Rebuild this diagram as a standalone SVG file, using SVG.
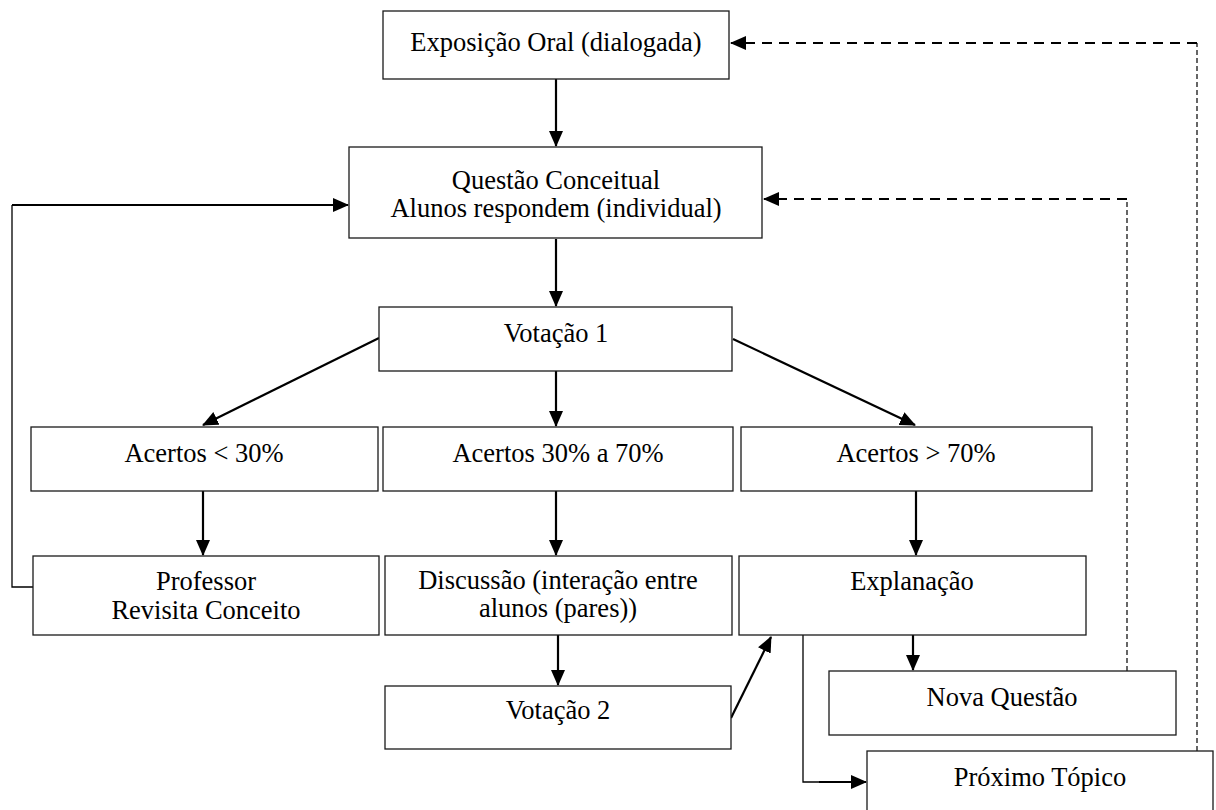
<svg xmlns="http://www.w3.org/2000/svg" width="1216" height="810" viewBox="0 0 1216 810">
  <style>
    .box rect { fill: #ffffff; stroke: #1a1a1a; stroke-width: 1.3; }
    .box text { font-family: "Liberation Serif", "Times New Roman", serif; font-size: 26.5px; fill: #000; text-anchor: middle; }
    .arrow { fill: none; stroke: #000; stroke-width: 2.2; }
    .thin { fill: none; stroke: #000; stroke-width: 1.3; }
    .dash { fill: none; stroke: #000; stroke-width: 2.2; stroke-dasharray: 10 7; }
    .dashthin { fill: none; stroke: #000; stroke-width: 1.2; stroke-dasharray: 5 3; }
  </style>
  <defs>
    <marker id="head" markerUnits="userSpaceOnUse" markerWidth="16" markerHeight="14" refX="15" refY="7" orient="auto">
      <path d="M0,0 L16,7 L0,14 Z" fill="#000"/>
    </marker>
  </defs>
  <rect width="1216" height="810" fill="#ffffff"/>

  <g id="connectors">
    <!-- main flow -->
    <line class="arrow" x1="556" y1="79" x2="556" y2="146" marker-end="url(#head)"/>
    <line class="arrow" x1="556" y1="239" x2="556" y2="306" marker-end="url(#head)"/>
    <line class="arrow" x1="379" y1="338" x2="203" y2="425" marker-end="url(#head)"/>
    <line class="arrow" x1="556" y1="371" x2="556" y2="426" marker-end="url(#head)"/>
    <line class="arrow" x1="733" y1="339" x2="915" y2="425" marker-end="url(#head)"/>
    <line class="arrow" x1="203" y1="491" x2="203" y2="555" marker-end="url(#head)"/>
    <line class="arrow" x1="556" y1="491" x2="556" y2="555" marker-end="url(#head)"/>
    <line class="arrow" x1="916" y1="491" x2="916" y2="555" marker-end="url(#head)"/>
    <line class="arrow" x1="558" y1="635" x2="558" y2="685" marker-end="url(#head)"/>
    <line class="arrow" x1="731" y1="718" x2="771" y2="637" marker-end="url(#head)"/>
    <line class="arrow" x1="913" y1="635" x2="913" y2="670" marker-end="url(#head)"/>
    <!-- Explanação to Próximo Tópico -->
    <polyline class="thin" points="803,635 803,782 820,782"/>
    <line class="arrow" x1="819" y1="782" x2="866" y2="782" marker-end="url(#head)"/>
    <!-- loop back from Professor Revisita Conceito -->
    <polyline class="thin" points="33,587 12,587 12,205"/>
    <line class="arrow" x1="12" y1="205" x2="348" y2="205" marker-end="url(#head)"/>
    <!-- dashed returns -->
    <line class="dashthin" x1="1127" y1="671" x2="1127" y2="199"/>
    <line class="dash" x1="1127" y1="199" x2="764" y2="199" marker-end="url(#head)"/>
    <line class="dashthin" x1="1197" y1="751" x2="1197" y2="43"/>
    <line class="dash" x1="1197" y1="43" x2="731" y2="43" marker-end="url(#head)"/>
  </g>

  <g id="exposicao" class="box">
    <rect x="383" y="11" width="346" height="68"/>
    <text x="556" y="51">Exposição Oral (dialogada)</text>
  </g>
  <g id="questao" class="box">
    <rect x="349" y="147" width="413" height="91"/>
    <text x="556" y="189">Questão Conceitual</text>
    <text x="556" y="217">Alunos respondem (individual)</text>
  </g>
  <g id="votacao1" class="box">
    <rect x="379" y="307" width="353" height="64"/>
    <text x="556" y="342">Votação 1</text>
  </g>
  <g id="acertos-baixo" class="box">
    <rect x="31" y="427" width="347" height="64"/>
    <text x="204" y="462">Acertos &lt; 30%</text>
  </g>
  <g id="acertos-medio" class="box">
    <rect x="383" y="427" width="350" height="64"/>
    <text x="558" y="462">Acertos 30% a 70%</text>
  </g>
  <g id="acertos-alto" class="box">
    <rect x="741" y="427" width="351" height="64"/>
    <text x="916" y="462">Acertos &gt; 70%</text>
  </g>
  <g id="professor" class="box">
    <rect x="33" y="556" width="346" height="79"/>
    <text x="206" y="590">Professor</text>
    <text x="206" y="619">Revisita Conceito</text>
  </g>
  <g id="discussao" class="box">
    <rect x="385" y="556" width="347" height="79"/>
    <text x="558" y="589">Discussão (interação entre</text>
    <text x="558" y="617">alunos (pares))</text>
  </g>
  <g id="explanacao" class="box">
    <rect x="739" y="556" width="347" height="79"/>
    <text x="912" y="590">Explanação</text>
  </g>
  <g id="votacao2" class="box">
    <rect x="385" y="686" width="346" height="63"/>
    <text x="558" y="719">Votação 2</text>
  </g>
  <g id="nova-questao" class="box">
    <rect x="829" y="671" width="347" height="64"/>
    <text x="1002" y="706">Nova Questão</text>
  </g>
  <g id="proximo-topico" class="box">
    <rect x="867" y="751" width="346" height="70"/>
    <text x="1040" y="786">Próximo Tópico</text>
  </g>
</svg>
